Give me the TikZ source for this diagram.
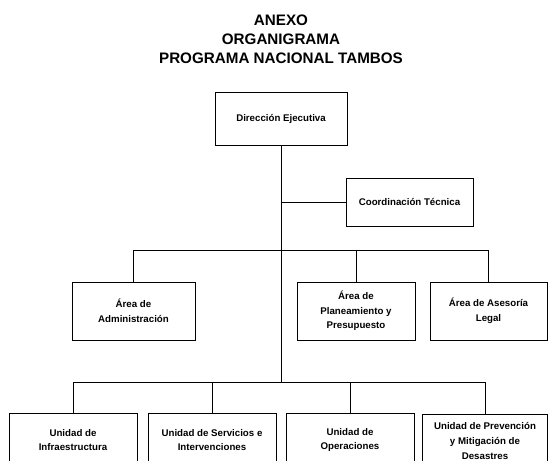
\documentclass[tikz,border=0pt]{standalone}
\usepackage{fontspec}
\setmainfont{Liberation Sans}
\usetikzlibrary{calc}
\tikzset{
    unitbox/.style={draw, line width=0.9pt, align=center, inner sep=2pt,
        font=\bfseries\fontsize{9.7}{14.7}\selectfont},
    link/.style={line width=0.9pt}
}

\begin{document}
\begin{tikzpicture}[x=1pt,y=-1pt]
      \useasboundingbox (0,0) rectangle (548,460);
      \clip (0,0) rectangle (548,460);
      % title
      \node[align=center, font=\bfseries\fontsize{15.2}{19}\selectfont] (title) at (281,39) {ANEXO\\ORGANIGRAMA\\PROGRAMA NACIONAL TAMBOS};
      % boxes
      \node[unitbox, minimum width=132pt, minimum height=53pt] (dir) at (281,118.5) {Dirección Ejecutiva};
      \node[unitbox, minimum width=127pt, minimum height=48pt] (coord) at (409.5,202) {Coordinación Técnica};
      \node[unitbox, minimum width=123pt, minimum height=58pt] (adm) at (133.5,311) {Área de\\Administración};
      \node[unitbox, minimum width=118pt, minimum height=58pt] (plan) at (356,311) {Área de\\Planeamiento y\\Presupuesto};
      \node[unitbox, minimum width=117pt, minimum height=58pt] (legal) at (488.5,311) {Área de Asesoría\\Legal};
      \node[unitbox, minimum width=128pt, minimum height=54pt] (infra) at (73,440) {Unidad de\\Infraestructura};
      \node[unitbox, minimum width=128pt, minimum height=54pt] (serv) at (212,440) {Unidad de Servicios e\\Intervenciones};
      \node[unitbox, minimum width=128pt, minimum height=54pt] (oper) at (350,440) {Unidad de\\Operaciones};
      \node[unitbox, minimum width=125pt, minimum height=54pt] (prev) at (485,441) {Unidad de Prevención\\y Mitigación de\\Desastres};
      % buses
      \coordinate (areabus) at (0,250);
      \coordinate (unitbus) at (0,382);
      % connectors
      \draw[link] (dir) -- (dir |- unitbus);
      \draw[link] (dir |- coord) -- (coord);
      \draw[link] (adm) -- (adm |- areabus) -- (legal |- areabus) -- (legal);
      \draw[link] (plan) -- (plan |- areabus);
      \draw[link] (infra) -- (infra |- unitbus) -- (prev |- unitbus) -- (prev);
      \draw[link] (serv) -- (serv |- unitbus);
      \draw[link] (oper) -- (oper |- unitbus);
\end{tikzpicture}
\end{document}
